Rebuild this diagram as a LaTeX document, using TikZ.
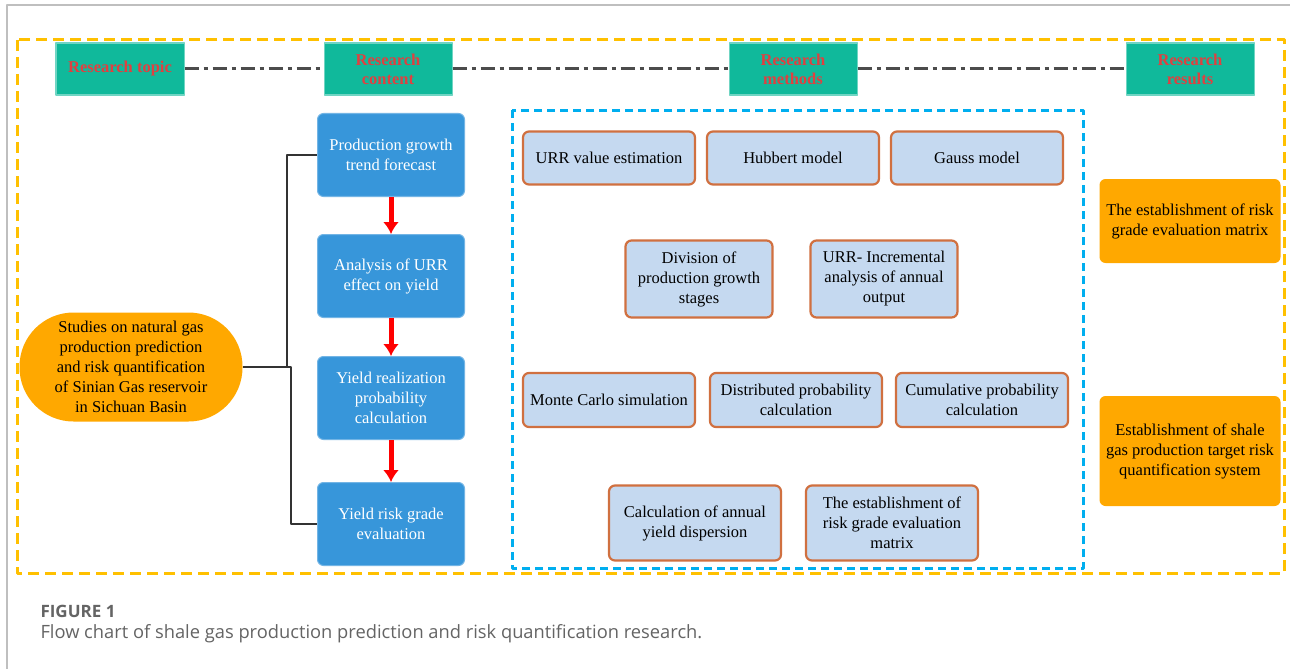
\documentclass[tikz,border=0pt]{standalone}
\usepackage{fontspec}
\setmainfont{Liberation Serif}
\newfontfamily\capfont{Open Sans}
\usetikzlibrary{shapes,arrows,arrows.meta,positioning,calc}

\definecolor{hdrcol}{RGB}{16,185,155}
\definecolor{hdrtext}{RGB}{224,64,64}
\definecolor{stagecol}{RGB}{55,150,218}
\definecolor{methfill}{RGB}{197,217,240}
\definecolor{methedge}{RGB}{208,112,64}
\definecolor{rescol}{RGB}{255,168,0}
\definecolor{framecol}{RGB}{255,192,0}
\definecolor{boxdash}{RGB}{0,174,239}
\definecolor{capcol}{RGB}{100,100,100}

\begin{document}
\begin{tikzpicture}[>=latex',line join=bevel,x=1pt,y=-1pt,
  hdr/.style={fill=hdrcol,draw=hdrcol!60!white,minimum width=128pt,minimum height=52pt,
    inner sep=2pt,align=center,text=hdrtext,font=\fontsize{16.5}{19}\selectfont\bfseries},
  stage/.style={fill=stagecol,draw=stagecol!70!white,rounded corners=6pt,minimum width=147pt,
    minimum height=83pt,inner sep=2pt,align=center,text=white,font=\fontsize{16.5}{20}\selectfont},
  method/.style={fill=methfill,draw=methedge,line width=2.2pt,rounded corners=6pt,
    minimum width=172pt,inner sep=2pt,align=center,font=\fontsize{16.5}{20}\selectfont},
  result/.style={fill=rescol,rounded corners=6pt,minimum width=181pt,inner sep=2pt,
    align=center,font=\fontsize{16.5}{20}\selectfont},
  topic/.style={fill=rescol,rounded corners=54pt,minimum width=223pt,minimum height=109pt,
    inner sep=0pt,align=center,font=\fontsize{16.5}{20}\selectfont},
  link/.style={draw=black!80,line width=2pt},
  flow/.style={-{Latex[length=12pt,width=16pt]},draw=red,line width=5pt},
  axis/.style={draw=black!70,line width=3pt,dash pattern=on 14pt off 5pt on 4pt off 5pt},
]
\pgfsetlinewidth{1bp}
\useasboundingbox (0,0) rectangle (1290,669);
\fill[white] (0,0) rectangle (1290,669);
\draw[black!25,line width=1.2pt] (7,669) -- (7,5) -- (1290,5);

% frames
\draw[framecol,line width=3pt,dash pattern=on 11pt off 6pt] (17,40) rectangle (1284,573);
\draw[boxdash,line width=3pt,dash pattern=on 8pt off 5pt] (512,110) rectangle (1083,568);

% header row
\node[hdr] (rtopic) at (120,69) {Research topic};
\node[hdr] (rcontent) at (388,69) {Research\\content};
\node[hdr] (rmethods) at (793,69) {Research\\methods};
\node[hdr] (rresults) at (1190,69) {Research\\results};
\draw[axis] (rtopic) -- (rcontent);
\draw[axis] (rcontent) -- (rmethods);
\draw[axis] (rmethods) -- (rresults);

% research content
\node[topic] (study) at (131,367) {Studies on natural gas\\production prediction\\and risk quantification\\of Sinian Gas reservoir\\in Sichuan Basin};
\node[stage] (grow) at (391,155) {Production growth\\trend forecast};
\node[stage] (urr) at (391,276) {Analysis of URR\\effect on yield};
\node[stage] (prob) at (391,398) {Yield realization\\probability\\calculation};
\node[stage] (grade) at (391,524) {Yield risk grade\\evaluation};
\draw[link] (study.east) -- ++(44,0) |- (grow.west);
\draw[link] (study.east) -- ++(48,0) |- (grade.west);
\draw[flow] (grow) -- (urr);
\draw[flow] (urr) -- (prob);
\draw[flow] (prob) -- (grade);

% research methods
\node[method,minimum height=53pt] (urrval) at (609,158) {URR value estimation};
\node[method,minimum height=53pt] (hubbert) at (793,158) {Hubbert model};
\node[method,minimum height=53pt] (gauss) at (977,158) {Gauss model};
\node[method,minimum height=77pt,minimum width=147pt] (division) at (699,279) {Division of\\production growth\\stages};
\node[method,minimum height=77pt,minimum width=147pt] (increm) at (884,279) {URR- Incremental\\analysis of annual\\output};
\node[method,minimum height=54pt] (monte) at (609,400) {Monte Carlo simulation};
\node[method,minimum height=54pt] (distr) at (796,400) {Distributed probability\\calculation};
\node[method,minimum height=54pt] (cumul) at (982,400) {Cumulative probability\\calculation};
\node[method,minimum height=75pt] (disper) at (695,523) {Calculation of annual\\yield dispersion};
\node[method,minimum height=75pt] (matrix) at (892,523) {The establishment of\\risk grade evaluation\\matrix};

% research results
\node[result,minimum height=84pt] (riskmat) at (1190,221) {The establishment of risk\\grade evaluation matrix};
\node[result,minimum height=110pt] (system) at (1190,451) {Establishment of shale\\gas production target risk\\quantification system};

% caption
\node[anchor=west,inner sep=0pt,text=capcol,font=\capfont\fontsize{17}{20}\selectfont\bfseries] (figlabel) at (40,611) {FIGURE 1};
\node[anchor=west,inner sep=0pt,text=capcol,font=\capfont\fontsize{18.3}{21}\selectfont] (figtext) at (40,634) {Flow chart of shale gas production prediction and risk quantification research.};
\end{tikzpicture}
\end{document}
